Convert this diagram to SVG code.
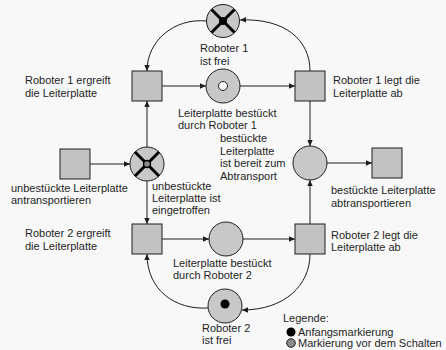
<svg xmlns="http://www.w3.org/2000/svg" width="446" height="350" viewBox="0 0 446 350">
<style>
text{font-family:"Liberation Sans",Arial,sans-serif;font-size:11px;fill:#1e1e1e}
.place{fill:#c8c8c8;stroke:#1e1e1e;stroke-width:1}
.trans{fill:#c2c2c2;stroke:#1e1e1e;stroke-width:1}
.arc{fill:none;stroke:#1e1e1e;stroke-width:1;marker-end:url(#arr)}
.x{stroke:#000;stroke-width:3}
</style>
<defs>
<marker id="arr" viewBox="0 0 10 10" refX="10" refY="5" markerWidth="7" markerHeight="6" orient="auto" markerUnits="userSpaceOnUse">
<path d="M0,0.5 L10,5 L0,9.5 z" fill="#1e1e1e"/>
</marker>
</defs>
<rect width="446" height="350" fill="#f8f8f8"/>
<g id="connectors">
<path class="arc" d="M206,21 C175,18 147,40 147,71"/>
<path class="arc" d="M310,71 C310,40 285,18 240,20"/>
<path class="arc" d="M162,86 L206,86"/>
<path class="arc" d="M240,86 L295,86"/>
<path class="arc" d="M310,101 L310,146"/>
<path class="arc" d="M327,163 L372,163"/>
<path class="arc" d="M90,164 L130,164"/>
<path class="arc" d="M147,147 L147,101"/>
<path class="arc" d="M147,181 L147,224"/>
<path class="arc" d="M162,239 L209,239"/>
<path class="arc" d="M243,239 L295,239"/>
<path class="arc" d="M310,224 L310,180"/>
<path class="arc" d="M310,254 C310,285 285,310 242,310"/>
<path class="arc" d="M208,308 C175,310 147,290 147,254"/>
</g>
<g id="p-roboter1-frei">
<circle class="place" cx="223" cy="21" r="16.5"/>
<line class="x" x1="211.5" y1="9.5" x2="234.5" y2="32.5"/>
<line class="x" x1="234.5" y1="9.5" x2="211.5" y2="32.5"/>
<circle cx="223" cy="21" r="4" fill="#000"/>
<text x="200" y="52">Roboter 1</text>
<text x="200" y="64.5">ist frei</text>
</g>
<g id="t-roboter1-ergreift">
<rect class="trans" x="132" y="71" width="30" height="30"/>
<text x="25" y="84">Roboter 1 ergreift</text>
<text x="25" y="97">die Leiterplatte</text>
</g>
<g id="p-bestueckt-r1">
<circle class="place" cx="223" cy="86" r="17"/>
<circle cx="223" cy="86" r="4.5" fill="#fff" stroke="#1e1e1e" stroke-width="1"/>
<text x="178" y="117">Leiterplatte bestückt</text>
<text x="178" y="129">durch Roboter 1</text>
</g>
<g id="t-roboter1-legt">
<rect class="trans" x="295" y="71" width="30" height="30"/>
<text x="333" y="84">Roboter 1 legt die</text>
<text x="333" y="97">Leiterplatte ab</text>
</g>
<g id="p-bereit">
<circle class="place" cx="310" cy="163" r="17"/>
<text x="220" y="142">bestückte</text>
<text x="220" y="154.5">Leiterplatte</text>
<text x="220" y="167">ist bereit zum</text>
<text x="220" y="179.5">Abtransport</text>
</g>
<g id="t-abtransport">
<rect class="trans" x="372" y="148" width="30" height="30"/>
<text x="331" y="194">bestückte Leiterplatte</text>
<text x="331" y="207">abtransportieren</text>
</g>
<g id="t-antransport">
<rect class="trans" x="60" y="149" width="30" height="30"/>
<text x="11" y="192">unbestückte Leiterplatte</text>
<text x="11" y="204">antransportieren</text>
</g>
<g id="p-eingetroffen">
<circle class="place" cx="147" cy="164" r="17"/>
<line class="x" x1="135" y1="152" x2="159" y2="176" stroke-width="2.5"/>
<line class="x" x1="159" y1="152" x2="135" y2="176" stroke-width="2.5"/>
<circle cx="147" cy="164" r="3.5" fill="#8a8a8a" stroke="#000" stroke-width="1.5"/>
<text x="152" y="190">unbestückte</text>
<text x="152" y="202">Leiterplatte ist</text>
<text x="152" y="214">eingetroffen</text>
</g>
<g id="t-roboter2-ergreift">
<rect class="trans" x="132" y="224" width="30" height="30"/>
<text x="25" y="237">Roboter 2 ergreift</text>
<text x="25" y="250">die Leiterplatte</text>
</g>
<g id="p-bestueckt-r2">
<circle class="place" cx="226" cy="239" r="17"/>
<text x="173" y="267">Leiterplatte bestückt</text>
<text x="173" y="279">durch Roboter 2</text>
</g>
<g id="t-roboter2-legt">
<rect class="trans" x="295" y="224" width="30" height="30"/>
<text x="331" y="239">Roboter 2 legt die</text>
<text x="331" y="251">Leiterplatte ab</text>
</g>
<g id="p-roboter2-frei">
<circle class="place" cx="225" cy="306" r="17"/>
<circle cx="225" cy="304" r="4.5" fill="#000"/>
<text x="202" y="332">Roboter 2</text>
<text x="202" y="344">ist frei</text>
</g>
<g id="legend">
<text x="283" y="322">Legende:</text>
<circle cx="291" cy="332" r="4.5" fill="#000"/>
<text x="298" y="336">Anfangsmarkierung</text>
<circle cx="291" cy="343" r="4.3" fill="#8a8a8a" stroke="#1e1e1e" stroke-width="1"/>
<text x="298" y="347">Markierung vor dem Schalten</text>
</g>
</svg>
